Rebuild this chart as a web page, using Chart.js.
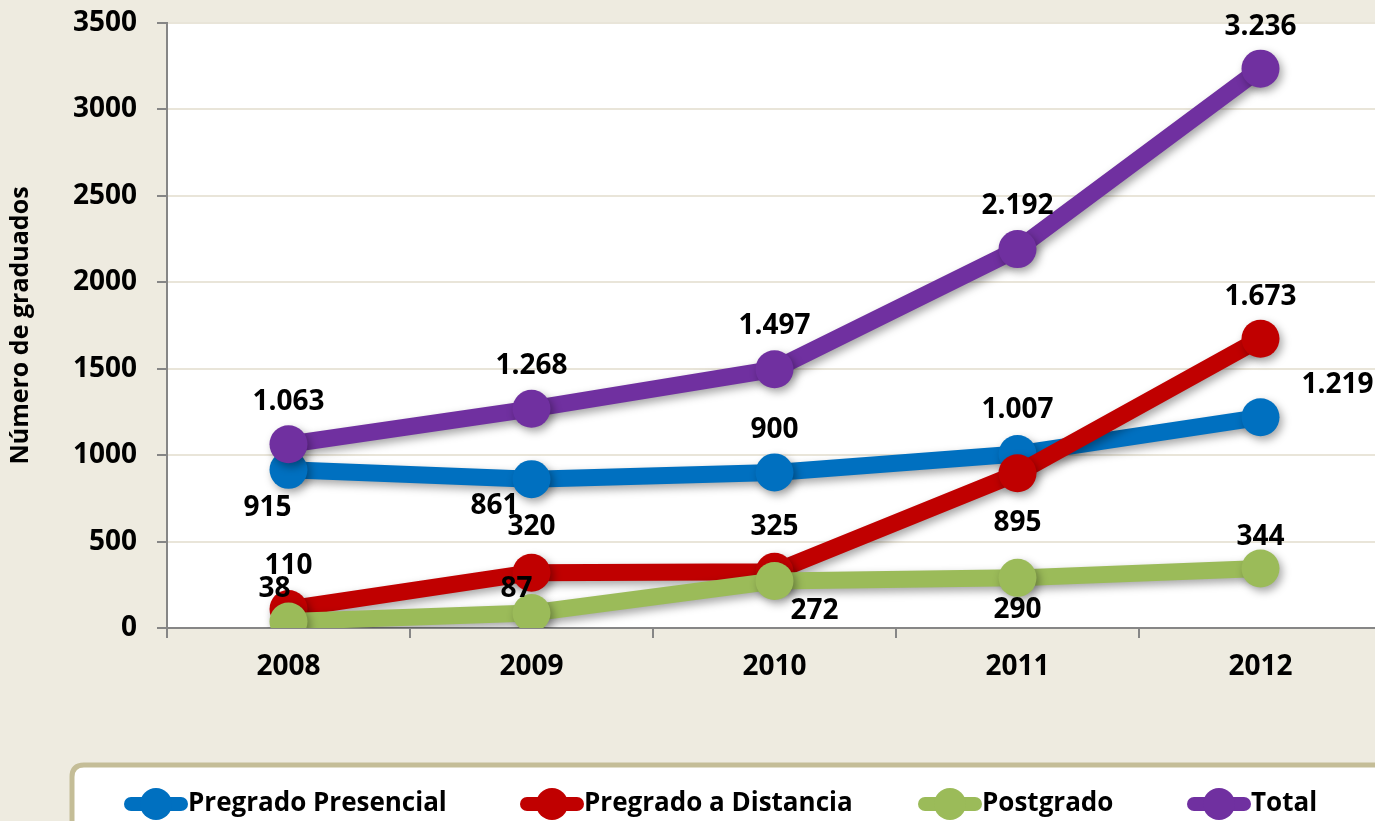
<!DOCTYPE html>
<html>
<head>
<meta charset="utf-8">
<script src="https://cdn.jsdelivr.net/npm/chart.js@4.4.1/dist/chart.umd.min.js"></script>
<style>
  html,body{margin:0;padding:0;background:#EEEBE0;overflow:hidden;}
  #wrap{position:relative;width:1382px;height:821px;}
</style>
</head>
<body>
<div id="wrap"><canvas id="c" width="1382" height="821"></canvas></div>
<script>
/* data */
const years = ['2008','2009','2010','2011','2012'];
const presencial = [915, 861, 900, 1007, 1219];
const distancia = [110, 320, 325, 895, 1673];
const postgrado = [38, 87, 272, 290, 344];
const total = [1063, 1268, 1497, 2192, 3236];
const seriesNames = ['Pregrado Presencial','Pregrado a Distancia','Postgrado','Total'];
const yTicks = [0, 500, 1000, 1500, 2000, 2500, 3000, 3500];

/* style */
const colors = ['#0070C0','#C00000','#9BBB59','#7030A0'];
const FONT = '"Open Sans", "DejaVu Sans", sans-serif';
// label offsets (dx, dy) from each point
const labelOffsets = [
  [[-21,38],[-37,27],[0,-42],[0,-44],[77,-32]],
  [[0,-43],[0,-46],[0,-45],[0,50],[0,-42]],
  [[-14,-32],[-15,-24],[40,30],[0,32],[0,-32]],
  [[0,-42],[0,-43],[0,-43],[0,-43],[0,-42]]
];
const legendX = [124, 520, 918, 1187];

function fmt(v){ return String(v).replace(/\B(?=(\d{3})+(?!\d))/g, '.'); }

const shadowPlugin = {
  id:'shadow',
  beforeDatasetDraw(chart){
    const ctx = chart.ctx;
    ctx.save();
    ctx.shadowColor = 'rgba(0,0,0,0.35)';
    ctx.shadowBlur = 8;
    ctx.shadowOffsetX = 3;
    ctx.shadowOffsetY = 4;
  },
  afterDatasetDraw(chart){ chart.ctx.restore(); }
};

const labelsPlugin = {
  id:'vlabels',
  afterDatasetsDraw(chart){
    const ctx = chart.ctx;
    ctx.save();
    ctx.font = 'bold 28px ' + FONT;
    ctx.fillStyle = '#000';
    ctx.textAlign = 'center';
    ctx.textBaseline = 'middle';
    chart.data.datasets.forEach((ds, i)=>{
      const meta = chart.getDatasetMeta(i);
      meta.data.forEach((pt, j)=>{
        const o = labelOffsets[i][j];
        ctx.fillText(fmt(ds.data[j]), pt.x + o[0], pt.y + o[1]);
      });
    });
    ctx.restore();
  }
};

const legendPlugin = {
  id:'boxLegend',
  afterDraw(chart){
    const ctx = chart.ctx;
    ctx.save();
    // box
    const x = 72, y = 765, w = 1400, h = 120, r = 12;
    ctx.beginPath();
    ctx.moveTo(x + r, y);
    ctx.lineTo(x + w, y);
    ctx.lineTo(x + w, y + h);
    ctx.lineTo(x, y + h);
    ctx.lineTo(x, y + r);
    ctx.quadraticCurveTo(x, y, x + r, y);
    ctx.closePath();
    ctx.fillStyle = '#fff';
    ctx.fill();
    ctx.lineWidth = 5;
    ctx.strokeStyle = '#C4BD97';
    ctx.stroke();
    // items
    const cy = 804;
    ctx.font = 'bold 26px ' + FONT;
    ctx.textBaseline = 'middle';
    ctx.textAlign = 'left';
    seriesNames.forEach((name, i)=>{
      const lx = legendX[i];
      ctx.strokeStyle = colors[i];
      ctx.lineWidth = 14;
      ctx.lineCap = 'round';
      ctx.beginPath();
      ctx.moveTo(lx + 7, cy);
      ctx.lineTo(lx + 57, cy);
      ctx.stroke();
      ctx.fillStyle = colors[i];
      ctx.beginPath();
      ctx.arc(lx + 32, cy, 16, 0, Math.PI * 2);
      ctx.fill();
      ctx.fillStyle = '#000';
      ctx.fillText(name, lx + 64, cy);
    });
    ctx.restore();
  }
};

const plotBg = {
  id:'plotBg',
  beforeDraw(chart){
    const a = chart.chartArea, ctx = chart.ctx;
    ctx.save();
    ctx.fillStyle = '#fff';
    ctx.fillRect(a.left, a.top, a.right - a.left, a.bottom - a.top);
    ctx.restore();
  }
};

const seriesData = [presencial, distancia, postgrado, total];
const datasets = seriesData.map((d, i)=>({
  label: seriesNames[i],
  data: d,
  borderColor: colors[i],
  backgroundColor: colors[i],
  borderWidth: 17,
  pointRadius: 19,
  pointHoverRadius: 19,
  pointBorderWidth: 0,
  pointBackgroundColor: colors[i],
  tension: 0,
  order: 4 - i
}));

new Chart(document.getElementById('c'), {
  type:'line',
  data:{ labels: years, datasets },
  options:{
    responsive:false,
    animation:false,
    layout:{ autoPadding:false, padding:{ top:23, left:0, right:0, bottom:0 } },
    plugins:{ legend:{ display:false }, tooltip:{ enabled:false } },
    scales:{
      x:{
        offset:true,
        grid:{ drawOnChartArea:false, offset:true, tickLength:10, tickColor:'#868686', lineWidth:2 },
        border:{ color:'#868686', width:2 },
        ticks:{ color:'#000', font:{ family:FONT, size:28, weight:'bold' }, padding:12 },
        afterFit(s){ s.height = 193; s.paddingLeft = 0; s.paddingRight = 0; }
      },
      y:{
        min:0, max:3500,
        afterBuildTicks(s){ s.ticks = yTicks.map(v=>({ value:v })); },
        grid:{ color:'#E9E5D9', lineWidth:2, tickLength:10, tickColor:'#868686' },
        border:{ color:'#868686', width:2 },
        ticks:{ color:'#000', font:{ family:FONT, size:28, weight:'bold' }, padding:20,
                callback:v => String(v) },
        title:{ display:true, text:'Número de graduados', color:'#000',
                font:{ family:FONT, size:25, weight:'bold' }, padding:{ top:6, bottom:0 } },
        afterFit(s){ s.width = 167; s.paddingTop = 0; s.paddingBottom = 0; }
      }
    }
  },
  plugins:[plotBg, shadowPlugin, labelsPlugin, legendPlugin]
});
</script>
</body>
</html>
